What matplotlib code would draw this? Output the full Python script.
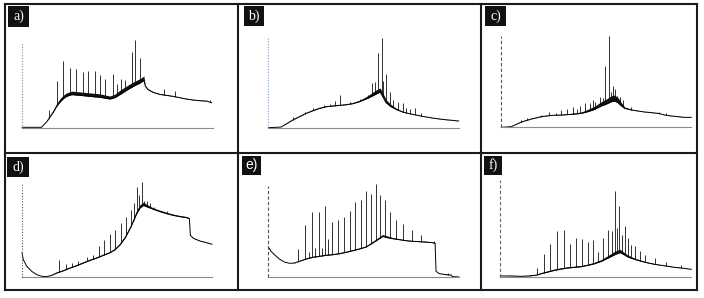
import matplotlib
matplotlib.use("Agg")
import matplotlib.pyplot as plt
from matplotlib.lines import Line2D
from matplotlib.patches import Rectangle

# ---------------- data (x: % of run time, y: % relative intensity) ----------------
labels = ["a)", "b)", "c)", "d)", "e)", "f)"]

a_x = [0, 10.3, 11.1, 12.9, 14.6, 16.4, 18.1, 19.9, 21.6, 23.3, 26.0, 30.3, 35.5, 40.8, 46.0, 48.6, 51.2,
       54.7, 58.2, 61.7, 63.8, 64.6, 66.0, 68.6, 72.1, 75.6, 79.1, 82.6, 86.1, 89.5, 93.0, 96.5, 99.3]
a_y = [0.8, 0.8, 3.1, 7.0, 12.8, 18.6, 25.2, 30.2, 34.1, 36.8, 38.8, 38.0, 36.8, 35.7, 33.7, 35.3, 38.8,
       43.8, 48.4, 52.3, 55.4, 48.4, 44.6, 41.5, 39.1, 38.0, 36.8, 35.3, 33.7, 32.6, 31.8, 31.4, 29.5]
a_noise = [0, 0, 0, 0, 1, 2, 3, 4, 4, 4, 4, 4, 4, 4, 3.5, 4, 5,
           5, 5, 5, 5, 1, 1, 0.8, 0.8, 0.8, 0.5, 0.5, 0.5, 0.5, 0.5, 0.5, 0]
a_peak_x = [14.3, 18.1, 21.6, 25.1, 28.4, 31.7, 34.8, 38.2, 40.8, 43.4, 47.7, 49.8, 51.6, 54.0, 57.5,
            59.2, 61.7, 74.6, 80.3, 98.3]
a_peak_y = [20.5, 54.3, 77.5, 70.2, 69.0, 65.1, 65.9, 66.3, 61.2, 57.4, 62.4, 51.6, 57.4, 55.4, 88.4,
            101.9, 81.8, 45.7, 43.0, 32.9]

b_x = [0, 6.7, 9.3, 12.8, 16.3, 19.8, 23.3, 26.8, 30.3, 33.8, 37.3, 40.8, 44.3, 47.8, 51.3, 53.9, 56.6,
       58.7, 60.1, 61.8, 64.4, 67.1, 70.6, 74.1, 77.6, 81.1, 86.3, 91.6, 96.8, 100]
b_y = [0, 0.7, 4.1, 8.6, 12.3, 16.0, 19.0, 21.6, 23.5, 24.3, 25.0, 25.7, 26.9, 29.1, 32.1, 34.7, 37.7,
       39.9, 34.7, 28.0, 23.5, 20.5, 17.5, 15.7, 14.2, 12.7, 10.8, 9.3, 8.2, 7.5]
b_noise = [0, 0, 0.3, 0.5, 0.5, 0.5, 0.8, 0.8, 0.8, 0.8, 0.8, 0.8, 1, 1.5, 2.5, 3.5, 4.5,
           4.5, 4.5, 3.5, 2.5, 1.5, 0.8, 0.5, 0.5, 0.3, 0.3, 0.3, 0.3, 0]
b_peak_x = [12.8, 19.3, 23.6, 29.4, 32.6, 35.2, 37.8, 42.9, 48.2, 52.2, 54.3, 55.9, 57.6, 59.5, 60.2,
            62.0, 63.9, 65.7, 68.0, 70.6, 72.3, 74.4, 76.9, 80.4]
b_peak_y = [11.6, 17.2, 21.6, 25.0, 26.5, 30.2, 36.6, 29.1, 31.7, 36.6, 50.4, 51.5, 83.2, 100.0, 52.6,
            60.1, 40.3, 31.0, 29.1, 27.2, 21.6, 20.5, 21.6, 16.0]

c_x = [0, 5.3, 10.5, 15.8, 21.1, 26.3, 31.6, 36.8, 42.1, 45.6, 49.1, 52.6, 55.3, 57.9, 59.6, 61.4, 63.2,
       64.9, 68.4, 71.9, 75.4, 78.9, 82.5, 86.0, 89.5, 93.0, 96.5, 100]
c_y = [0, 0.7, 5.8, 9.1, 11.7, 13.1, 13.5, 14.2, 15.3, 17.2, 19.7, 23.4, 25.5, 28.1, 28.8, 27.0, 23.4,
       20.8, 19.0, 17.9, 16.8, 16.1, 15.3, 13.5, 12.4, 11.7, 10.9, 10.9]
c_noise = [0, 0, 0.3, 0.3, 0.5, 0.5, 0.5, 1, 1.5, 2.5, 3.5, 4.5, 5.5, 6.5, 6.5, 5.5, 3.5,
           1.5, 0.8, 0.3, 0.3, 0.3, 0.3, 0.3, 0.3, 0.3, 0.3, 0]
c_peak_x = [10.5, 13.7, 21.1, 24.9, 28.9, 31.6, 34.6, 37.7, 39.8, 41.6, 44.2, 46.5, 48.2, 49.5, 51.8,
            53.5, 54.7, 56.7, 57.5, 58.8, 60.0, 61.1, 62.3, 64.0, 68.1, 82.8, 86.8]
c_peak_y = [8.0, 9.9, 13.5, 16.8, 16.1, 19.0, 20.4, 21.9, 20.4, 23.4, 27.0, 26.3, 29.9, 28.1, 33.6,
            31.8, 67.5, 100.4, 39.1, 45.3, 41.6, 34.3, 32.8, 29.9, 21.9, 17.2, 15.3]

d_x = [0, 0.7, 2.5, 5.1, 7.7, 10.4, 13.0, 15.6, 18.2, 21.8, 25.3, 28.8, 32.3, 35.8, 39.3, 42.8, 46.3,
       48.9, 51.6, 54.2, 56.8, 58.6, 60.4, 62.1, 63.9, 65.6, 69.1, 72.6, 76.1, 79.6, 83.2, 86.7, 88.1,
       88.6, 90.2, 93.7, 97.2, 100]
d_y = [26.1, 18.9, 11.8, 6.4, 2.9, 1.1, 0.7, 2.1, 4.6, 7.1, 10.0, 12.5, 15.4, 18.2, 20.7, 23.6, 26.4,
       29.6, 35.0, 42.1, 52.1, 60.0, 68.6, 74.3, 77.1, 75.7, 72.9, 70.4, 68.2, 66.4, 65.0, 63.9, 62.9,
       45.0, 41.8, 38.9, 37.1, 35.4]
d_noise = [0, 0, 0, 0, 0, 0, 0, 0.3, 0.8, 1, 1, 1.2, 1.2, 1.2, 1.2, 1.2, 1.2,
           1.2, 1.5, 2, 2, 2.5, 3.5, 3.5, 3.5, 2.5, 1.5, 1.5, 1.5, 1.2, 1.2, 1.2, 0.8,
           0.3, 0.3, 0.3, 0.3, 0]
d_peak_x = [19.6, 23.2, 26.1, 29.6, 34.0, 37.5, 40.4, 43.3, 46.3, 49.1, 51.9, 54.6, 57.2, 58.9, 60.5,
            61.4, 63.2, 64.2, 66.0, 67.4, 69.5, 76.1, 79.6]
d_peak_y = [18.6, 14.6, 15.7, 17.1, 21.4, 24.3, 33.2, 40.4, 46.4, 51.1, 57.9, 64.3, 72.5, 79.6, 96.4,
            88.6, 101.8, 81.4, 81.4, 79.3, 75.7, 70.7, 67.9]

e_x = [0, 1.4, 3.2, 5.8, 8.4, 11.0, 13.7, 16.3, 19.8, 23.3, 26.8, 30.3, 33.8, 37.3, 40.8, 44.3, 47.8,
       51.3, 54.8, 58.3, 60.1, 61.8, 65.3, 68.8, 72.3, 75.8, 79.3, 82.8, 86.3, 87.6, 88.1, 89.8, 93.3,
       96.0, 96.8, 100]
e_y = [33.1, 28.4, 24.7, 20.0, 16.7, 15.3, 15.6, 17.5, 20.0, 21.8, 22.9, 24.0, 24.7, 25.8, 27.3, 29.1,
       30.9, 33.1, 37.5, 42.2, 44.7, 43.6, 42.2, 41.1, 40.0, 39.3, 38.9, 38.5, 37.8, 37.1, 6.5, 4.0, 2.9,
       2.5, 0.7, 0.4]
e_noise = [0, 0, 0, 0, 0, 0, 0.3, 0.5, 0.8, 1, 1, 1, 1, 1, 1, 1, 1,
           1, 1.5, 2, 2, 2, 1.2, 1, 0.8, 0.8, 0.8, 0.8, 0.8, 0.3, 0, 0, 0.3,
           0.3, 0, 0]
e_peak_x = [15.4, 19.3, 21.2, 22.8, 24.7, 26.4, 28.0, 29.9, 31.2, 33.3, 36.4, 39.9, 42.9, 45.7, 48.7,
            51.5, 54.1, 56.4, 58.8, 61.3, 63.9, 67.3, 70.6, 75.3, 80.4, 87.2, 94.6]
e_peak_y = [30.9, 57.5, 27.6, 70.9, 32.0, 71.3, 32.0, 77.5, 42.2, 60.0, 62.9, 65.5, 72.0, 82.2, 84.7,
            93.8, 90.9, 102.2, 90.2, 84.7, 70.9, 62.9, 58.2, 52.0, 45.8, 40.0, 4.7]

f_x = [0, 5.8, 11.0, 14.5, 18.0, 19.7, 21.5, 25.0, 28.4, 31.9, 35.4, 38.9, 42.4, 45.9, 49.4, 52.9, 56.4,
       59.9, 62.5, 64.2, 66.8, 70.3, 73.8, 77.3, 80.8, 84.3, 87.8, 91.3, 94.8, 97.4, 100]
f_y = [1.4, 1.4, 1.0, 1.4, 2.0, 2.7, 3.8, 5.5, 7.2, 8.5, 9.6, 10.2, 10.9, 12.3, 14.0, 16.4, 19.8,
       23.2, 25.3, 23.9, 20.8, 18.4, 16.4, 14.7, 13.3, 12.3, 11.3, 10.2, 9.6, 8.9, 8.2]
f_noise = [0, 0.3, 0.3, 0.3, 0.5, 0.8, 1, 1.2, 1.2, 1.2, 1.2, 1.2, 1.2, 1.2, 1.5, 1.8, 2.5,
           3.5, 3.5, 2.5, 2, 1.2, 1, 0.8, 0.8, 0.3, 0.3, 0.3, 0.3, 0.3, 0]
f_peak_x = [15.4, 19.0, 22.7, 26.2, 29.8, 33.3, 36.6, 39.6, 42.9, 45.7, 48.5, 51.3, 53.9, 56.5, 58.6,
            60.2, 61.3, 62.3, 63.9, 65.4, 66.8, 68.2, 70.7, 73.0, 75.6, 80.8, 86.9, 94.8]
f_peak_y = [2.7, 9.6, 23.9, 34.1, 47.1, 48.5, 34.1, 40.3, 39.2, 35.8, 37.9, 25.6, 40.3, 48.8, 47.8,
            88.7, 50.5, 73.4, 43.7, 52.2, 40.3, 33.4, 31.7, 26.6, 23.2, 19.8, 15.4, 12.3]

series = [
    (a_x, a_y, a_noise, a_peak_x, a_peak_y),
    (b_x, b_y, b_noise, b_peak_x, b_peak_y),
    (c_x, c_y, c_noise, c_peak_x, c_peak_y),
    (d_x, d_y, d_noise, d_peak_x, d_peak_y),
    (e_x, e_y, e_noise, e_peak_x, e_peak_y),
    (f_x, f_y, f_noise, f_peak_x, f_peak_y),
]

# ---------------- layout (pixels) ----------------
W, H = 704, 298
fig = plt.figure(figsize=(W / 100, H / 100), dpi=100)
fig.patch.set_facecolor("white")


def fx(px):
    return px / W


def fy(py):
    return 1 - py / H


# axes boxes: left, right, top, bottom (pixels)
axes_px = [
    (22, 213, 42, 128),
    (268.3, 458.7, 38.3, 127.7),
    (501.3, 691.3, 36, 127.3),
    (22, 212, 184, 277.3),
    (268.3, 458.7, 185.7, 277.3),
    (500.3, 691.3, 179.7, 277.3),
]
yaxis_style = [
    dict(ls=(0, (1, 1.5)), color="#8a8a8a"),
    dict(ls=(0, (1, 1.5)), color="#7f9bbf"),
    dict(ls=(0, (3, 2)), color="#555555"),
    dict(ls=(0, (1, 1.5)), color="#555555"),
    dict(ls=(0, (3, 2)), color="#555555"),
    dict(ls=(0, (3, 2)), color="#666666"),
]
label_box = [
    (8, 6, 29, 27),
    (244, 6, 264, 26),
    (485, 6, 506, 26),
    (7, 157, 29, 177),
    (242, 156, 261, 175),
    (484, 156, 502, 175),
]
label_font = ["Liberation Serif", "Liberation Serif", "Liberation Serif",
              "Liberation Serif", "Liberation Sans", "Liberation Serif"]

for i, (bx, by, bn, pxs, pys) in enumerate(series):
    l, r, t, b = axes_px[i]
    ax = fig.add_axes([fx(l), fy(b), (r - l) / W, (b - t) / H])
    ax.set_xlim(0, 100)
    ax.set_ylim(0, 100)
    ax.axis("off")
    # peaks
    ax.vlines(pxs, 0, pys, color="#111111", lw=0.6, zorder=1, clip_on=False)
    # hide peak feet below the baseline
    ax.fill_between(bx, 0, by, color="white", lw=0, zorder=2, clip_on=False)
    # unresolved noise envelope
    top = [yy + nn for yy, nn in zip(by, bn)]
    ax.fill_between(bx, by, top, color="#111111", lw=0, zorder=3, clip_on=False)
    # baseline trace
    ax.plot(bx, by, color="black", lw=0.7, zorder=3, clip_on=False)
    # axes lines
    ax.plot([0, 100], [0, 0], color="#8c8c8c", lw=0.8, zorder=4, clip_on=False)
    ax.plot([0, 0], [0, 100], lw=0.8, zorder=4, clip_on=False, **yaxis_style[i])

    # label box
    x0, y0, x1, y1 = label_box[i]
    fig.add_artist(Rectangle((fx(x0), fy(y1)), (x1 - x0) / W, (y1 - y0) / H,
                             transform=fig.transFigure, facecolor="#111111",
                             edgecolor="none", zorder=5))
    fig.text(fx((x0 + x1) / 2), fy((y0 + y1) / 2), labels[i], color="white",
             fontsize=10, family=label_font[i], ha="center", va="center", zorder=6)

# table grid lines
lc = "#1a1a1a"
lw = 1.5
for (xa, ya, xb, yb) in [
    (5, 3.5, 697, 3.5), (5, 290, 697, 290), (5, 153, 697, 153),
    (5, 3.5, 5, 290), (697, 3.5, 697, 290), (238, 3.5, 238, 290), (481, 3.5, 481, 290),
]:
    fig.add_artist(Line2D([fx(xa), fx(xb)], [fy(ya), fy(yb)], color=lc, lw=lw,
                          solid_capstyle="projecting", transform=fig.transFigure))

fig.savefig("out.png", dpi=100, facecolor="white")
